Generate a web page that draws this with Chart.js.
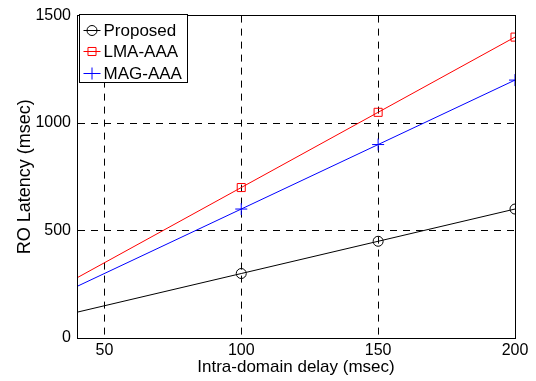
<!DOCTYPE html>
<html>
<head>
<meta charset="utf-8">
<script src="https://cdn.jsdelivr.net/npm/chart.js@4"></script>
<style>
  html, body { margin: 0; padding: 0; background: #fff; }
  #wrap { width: 536px; height: 381px; }
</style>
</head>
<body>
<div id="wrap"><canvas id="chart" width="536" height="381"></canvas></div>
<script>
const xValues = [40, 100, 150, 200];
const proposed = [120, 300, 450, 600];
const lmaAaa = [280, 700, 1050, 1400];
const magAaa = [240, 600, 900, 1200];
const seriesNames = ['Proposed', 'LMA-AAA', 'MAG-AAA'];
const xTicks = [50, 100, 150, 200];
const yTicks = [0, 500, 1000, 1500];

const FONT = 'Liberation Sans, Arial, Helvetica, sans-serif';

function toPoints(ys) {
  return xValues.map((x, i) => ({ x: x, y: ys[i] }));
}
// no marker on the first point (left edge of the axes)
const markerRadius = r => xValues.map((x, i) => i === 0 ? 0 : r);

const align = p => Math.round(p - 0.5) + 0.5;

// solid frame + boxed legend, MATLAB style
const framePlugin = {
  id: 'frame',
  afterDraw(chart) {
    const ctx = chart.ctx;
    const a = chart.chartArea;
    ctx.save();
    ctx.strokeStyle = '#000';
    ctx.lineWidth = 1;
    ctx.setLineDash([]);
    const l = align(a.left), t = align(a.top), r = align(a.right), b = align(a.bottom);
    ctx.strokeRect(l, t, r - l, b - t);

    // legend
    const lx = 79.5, ly = 14.5, lw = 108, lh = 68;
    ctx.fillStyle = '#fff';
    ctx.fillRect(lx, ly, lw, lh);
    ctx.strokeRect(lx, ly, lw, lh);
    ctx.font = '17px ' + FONT;
    ctx.textBaseline = 'middle';
    chart.data.datasets.forEach((ds, i) => {
      const y = Math.round(ly + 15 + i * 21.7) + 0.5;
      ctx.strokeStyle = ds.borderColor;
      ctx.beginPath();
      ctx.moveTo(lx + 4, y);
      ctx.lineTo(lx + 21, y);
      ctx.stroke();
      ctx.fillStyle = 'rgba(0,0,0,0)';
      Chart.helpers.drawPoint(ctx, {
        pointStyle: ds.pointStyle, radius: ds.legendRadius, borderWidth: 1
      }, lx + 12.5, y);
      ctx.fillStyle = '#000';
      ctx.fillText(ds.label, lx + 24, y + 1);
    });
    ctx.restore();
  }
};

const makeSet = (label, ys, color, style, r) => ({
  label: label,
  data: toPoints(ys),
  borderColor: color,
  backgroundColor: 'rgba(0,0,0,0)',
  borderWidth: 1,
  pointStyle: style,
  pointRadius: markerRadius(r),
  pointHoverRadius: 0,
  pointBorderColor: color,
  pointBorderWidth: 1,
  legendRadius: r,
  tension: 0
});

new Chart(document.getElementById('chart'), {
  type: 'line',
  data: {
    datasets: [
      makeSet(seriesNames[0], proposed, '#000000', 'circle', 5),
      makeSet(seriesNames[1], lmaAaa, '#ff0000', 'rect', 5.7),
      makeSet(seriesNames[2], magAaa, '#0000ff', 'cross', 6)
    ]
  },
  options: {
    responsive: false,
    animation: false,
    devicePixelRatio: 1,
    layout: { padding: { top: 13, right: 21, bottom: 0, left: 0 } },
    plugins: {
      legend: { display: false },
      tooltip: { enabled: false }
    },
    scales: {
      x: {
        type: 'linear',
        min: 40,
        max: 200,
        afterBuildTicks: s => { s.ticks = xTicks.map(v => ({ value: v })); },
        afterFit: s => { s.height = 43; },
        grid: { color: '#000', lineWidth: 1, drawTicks: false },
        border: { display: true, color: '#000', width: 1, dash: [7, 6] },
        ticks: {
          color: '#000', font: { family: FONT, size: 16 }, padding: 3, maxRotation: 0,
          callback: v => String(v)
        },
        title: {
          display: true, text: 'Intra-domain delay (msec)', color: '#000',
          font: { family: FONT, size: 17 }, padding: { top: 0, bottom: 3 }
        }
      },
      y: {
        min: 0,
        max: 1500,
        afterBuildTicks: s => { s.ticks = yTicks.map(v => ({ value: v })); },
        afterFit: s => { s.width = 77; },
        grid: { color: '#000', lineWidth: 1, drawTicks: false },
        border: { display: true, color: '#000', width: 1, dash: [7, 6] },
        ticks: {
          color: '#000', font: { family: FONT, size: 16 }, padding: 6,
          callback: v => String(v)
        },
        title: {
          display: true, text: 'RO Latency (msec)', color: '#000',
          font: { family: FONT, size: 18 }, padding: { top: 14, bottom: 0 }
        }
      }
    }
  },
  plugins: [framePlugin]
});
</script>
</body>
</html>
